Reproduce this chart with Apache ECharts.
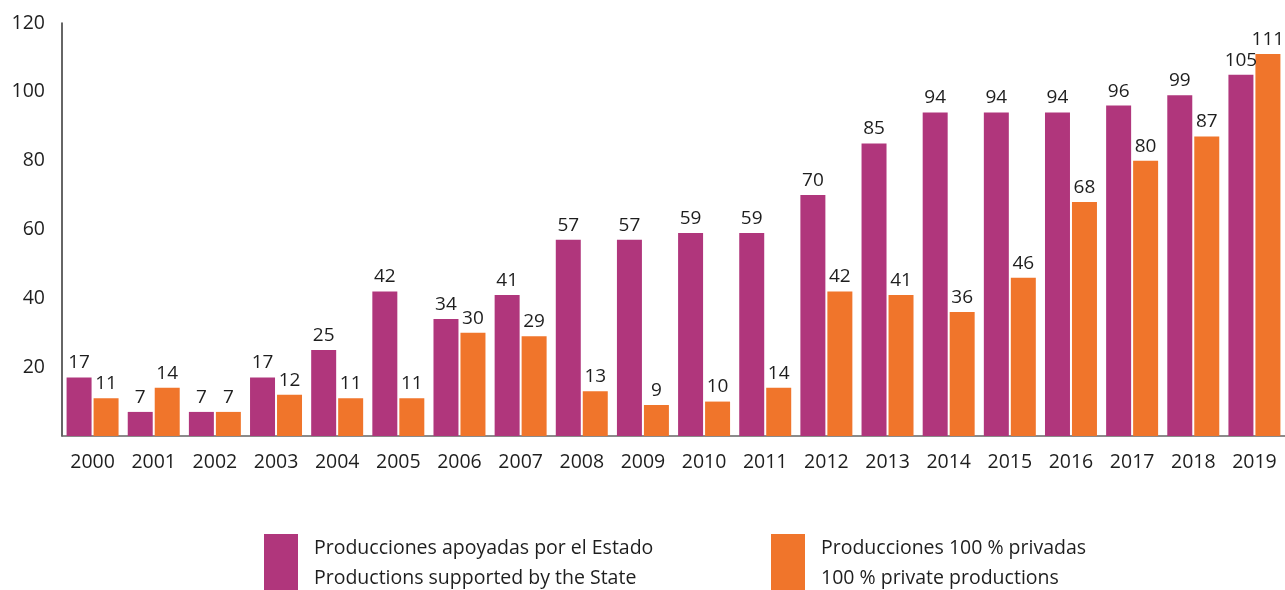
<!DOCTYPE html>
<html>
<head>
<meta charset="utf-8">
<style>
  html, body { margin: 0; padding: 0; background: #fff; }
  #chart { width: 1285px; height: 590px; }
</style>
<script src="https://cdn.jsdelivr.net/npm/echarts@6/dist/echarts.min.js"></script>
</head>
<body>
<div id="chart"></div>
<script>
const years = ['2000', '2001', '2002', '2003', '2004', '2005', '2006', '2007', '2008', '2009',
  '2010', '2011', '2012', '2013', '2014', '2015', '2016', '2017', '2018', '2019'];
const stateValues = [17, 7, 7, 17, 25, 42, 34, 41, 57, 57, 59, 59, 70, 85, 94, 94, 94, 96, 99, 105];
const privateValues = [11, 14, 7, 12, 11, 11, 30, 29, 13, 9, 10, 14, 42, 41, 36, 46, 68, 80, 87, 111];
const stateName = 'Producciones apoyadas por el Estado\nProductions supported by the State';
const privateName = 'Producciones 100 % privadas\n100 % private productions';

const fontFamily = '"Open Sans", "Noto Sans", sans-serif';
const chart = echarts.init(document.getElementById('chart'));

const legendBase = {
  top: 528,
  itemWidth: 34,
  itemHeight: 58,
  icon: 'rect',
  selectedMode: false,
  textStyle: {
    color: '#1e1e1e',
    fontFamily: fontFamily,
    fontSize: 19.5,
    lineHeight: 30,
    padding: [0, 0, 0, 11]
  }
};

const labelStyle = {
  show: true,
  position: 'top',
  distance: 5,
  color: '#1e1e1e',
  fontFamily: fontFamily,
  fontSize: 19
};

chart.setOption({
  animation: false,
  grid: { left: 62, right: 0, top: 23, bottom: 154 },
  legend: [
    Object.assign({ data: [stateName], left: 259 }, legendBase),
    Object.assign({ data: [privateName], left: 766 }, legendBase)
  ],
  xAxis: {
    type: 'category',
    data: years,
    axisTick: { show: false },
    axisLine: { lineStyle: { color: '#666', width: 1.5 } },
    axisLabel: { color: '#1e1e1e', fontFamily: fontFamily, fontSize: 19.5, margin: 16 }
  },
  yAxis: {
    type: 'value',
    min: 0,
    max: 120,
    interval: 20,
    splitLine: { show: false },
    axisLine: { show: true, lineStyle: { color: '#333', width: 1.5 } },
    axisLabel: {
      color: '#1e1e1e',
      fontFamily: fontFamily,
      fontSize: 19.5,
      margin: 17,
      formatter: v => (v === 0 ? '' : v)
    }
  },
  series: [
    {
      name: stateName,
      type: 'bar',
      data: stateValues,
      barGap: '8%',
      barCategoryGap: '15%',
      itemStyle: { color: '#b0367c' },
      label: labelStyle
    },
    {
      name: privateName,
      type: 'bar',
      data: privateValues,
      itemStyle: { color: '#f0752b' },
      label: labelStyle
    }
  ]
});
</script>
</body>
</html>
